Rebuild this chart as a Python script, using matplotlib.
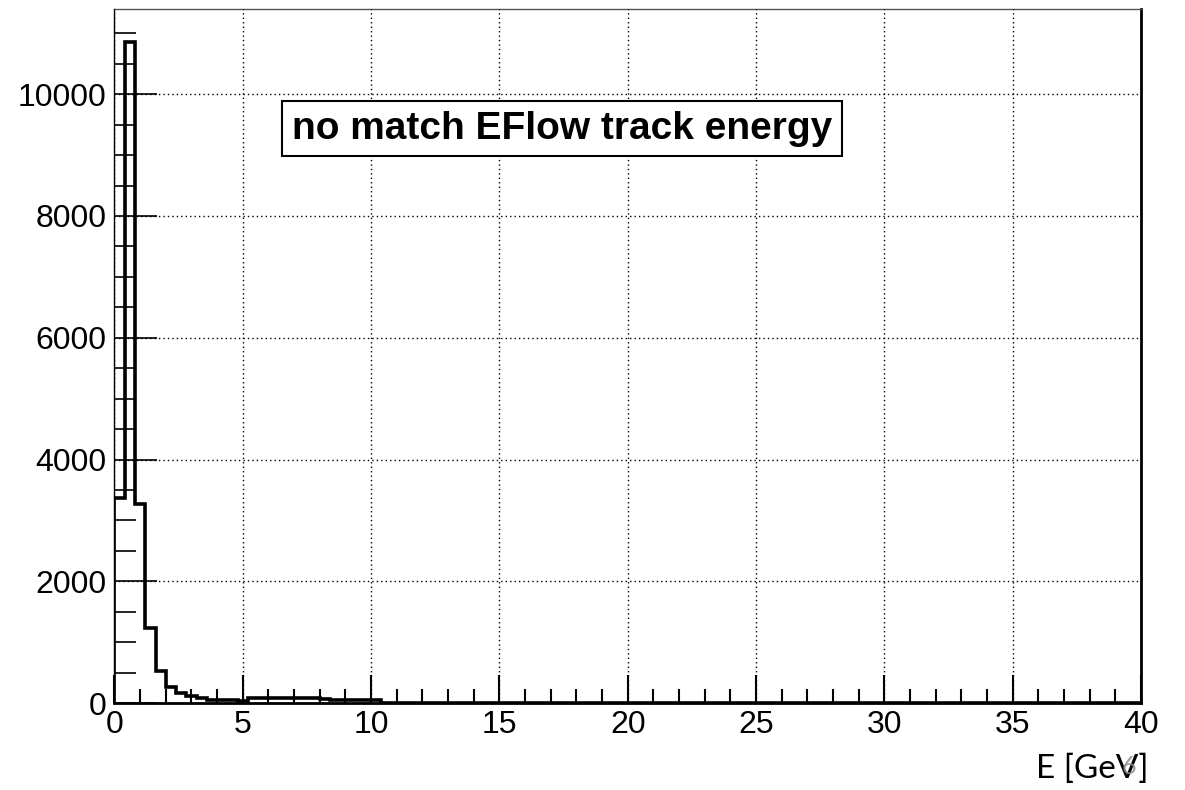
import numpy as np
import matplotlib
matplotlib.use("Agg")
import matplotlib.pyplot as plt
from matplotlib.ticker import MultipleLocator

# histogram: 100 bins of 0.4 GeV between 0 and 40
bin_edges = np.linspace(0, 40, 101)
counts_head = [3370, 10855, 3270, 1225, 520, 258, 170, 120, 77, 50,
               45, 42, 40,
               82, 84, 80, 78, 80, 76, 75, 72,
               52, 50, 48, 46, 44]
counts_tail = [6, 4, 3, 2, 2, 1, 1, 1, 0, 1] + [0] * 64
counts = np.array(counts_head + counts_tail, dtype=float)

title_text = "no match EFlow track energy"
xlabel_text = "E [GeV]"
page_number = "6"

plt.rcParams['font.family'] = ['Liberation Sans', 'DejaVu Sans']

fig = plt.figure(figsize=(11.85, 7.9), dpi=100)
ax = fig.add_axes([0.0966, 0.1101, 0.9629 - 0.0966, 0.9886 - 0.1101])

ax.stairs(counts, bin_edges, color="black", lw=2.6, baseline=0)

ax.set_xlim(0, 40)
ax.set_ylim(0, 11400)

ax.xaxis.set_major_locator(MultipleLocator(5))
ax.xaxis.set_minor_locator(MultipleLocator(1))
ax.yaxis.set_major_locator(MultipleLocator(2000))
ax.yaxis.set_minor_locator(MultipleLocator(500))

ax.tick_params(axis="both", which="both", direction="in", top=False, right=False,
               labelsize=23, color="black")
ax.tick_params(axis="x", which="major", length=20, width=1.5, pad=5)
ax.tick_params(axis="x", which="minor", length=10, width=1.5)
ax.tick_params(axis="y", which="major", length=31, width=1.2, pad=6)
ax.tick_params(axis="y", which="minor", length=16, width=1.2)

ax.grid(True, which="major", color="black", linestyle=(0, (1, 2.2)), lw=1.0)
ax.set_axisbelow(False)

ax.spines["left"].set_linewidth(1.0)
ax.spines["top"].set_linewidth(1.0)
ax.spines["top"].set_color("#555555")
ax.spines["right"].set_linewidth(2.0)
ax.spines["bottom"].set_linewidth(2.0)

fig.text(0.474, 0.837, title_text, fontsize=28, fontweight="bold",
         ha="center", va="center",
         bbox=dict(boxstyle="square,pad=0.25", facecolor="white",
                   edgecolor="black", lw=1.5))

fig.text(0.922, 0.015, xlabel_text, fontsize=24, family=["Lato", "DejaVu Sans"],
         ha="center", va="baseline")
fig.text(0.953, 0.020, page_number, fontsize=18, color="#8c8c8c", alpha=0.85,
         family=["Lato", "DejaVu Sans"], ha="center", va="baseline")

fig.savefig("out.png", dpi=100)
